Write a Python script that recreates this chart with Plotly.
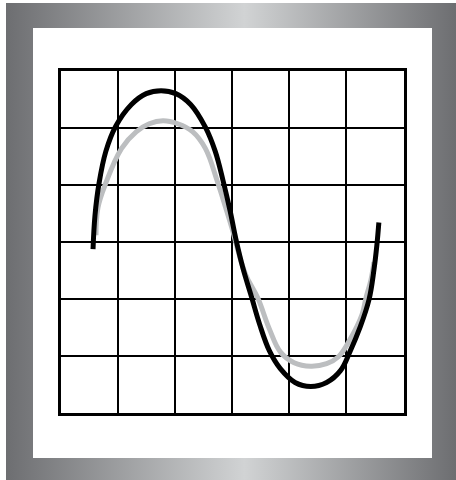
import plotly.graph_objects as go

# black wave (grid units: x 0..6, y -3..3)
black_x = [0.569, 0.603, 0.672, 0.793, 0.966, 1.241, 1.500, 1.759, 2.017, 2.276, 2.534, 2.707,
           2.845, 2.966, 3.069, 3.190, 3.345, 3.483, 3.655, 3.845, 4.103, 4.379, 4.655, 4.897,
           5.069, 5.241, 5.397, 5.483, 5.534, 5.569]
black_y = [-0.130, 0.458, 1.012, 1.583, 2.024, 2.405, 2.595, 2.647, 2.595, 2.405, 2.007, 1.583,
           1.064, 0.545, 0.043, -0.459, -0.978, -1.445, -1.912, -2.223, -2.465, -2.535, -2.465, -2.258,
           -1.912, -1.497, -1.012, -0.493, -0.061, 0.337]

# grey wave
grey_x = [0.621, 0.655, 0.793, 1.069, 1.328, 1.552, 1.793, 2.052, 2.310, 2.534, 2.741, 2.879,
          3.000, 3.103, 3.241, 3.448, 3.655, 3.845, 4.086, 4.379, 4.655, 4.862, 5.069, 5.276,
          5.345, 5.431, 5.483]
grey_y = [0.112, 0.596, 1.029, 1.635, 1.929, 2.067, 2.120, 2.067, 1.929, 1.635, 1.064, 0.631,
          0.234, -0.147, -0.580, -0.978, -1.531, -1.929, -2.119, -2.180, -2.136, -2.015, -1.704, -1.271,
          -0.978, -0.666, -0.355]

W, H = 456, 480

fig = go.Figure()

# gradient frame + white panel (pixel coords on the background axes)
fig.add_trace(go.Scatter(x=[6, W, W, 6, 6], y=[3, 3, H, H, 3], mode="lines",
                         fill="toself", line=dict(width=0),
                         fillgradient=dict(type="horizontal",
                                           colorscale=[[0, "#6d6e71"], [0.53, "#d1d3d4"], [1, "#6d6e71"]]),
                         hoverinfo="skip", xaxis="x", yaxis="y"))
fig.add_trace(go.Scatter(x=[33, 432, 432, 33, 33], y=[28, 28, 458, 458, 28], mode="lines",
                         fill="toself", fillcolor="white", line=dict(width=0),
                         hoverinfo="skip", xaxis="x", yaxis="y"))

fig.add_trace(go.Scatter(x=grey_x, y=grey_y, mode="lines",
                         line=dict(color="#bcbec0", width=5, shape="spline", smoothing=1.1),
                         hoverinfo="skip", xaxis="x2", yaxis="y2"))
fig.add_trace(go.Scatter(x=black_x, y=black_y, mode="lines",
                         line=dict(color="black", width=5, shape="spline", smoothing=1.1),
                         hoverinfo="skip", xaxis="x2", yaxis="y2"))

fig.update_layout(
    width=W, height=H, margin=dict(l=0, r=0, t=0, b=0),
    paper_bgcolor="white", plot_bgcolor="rgba(0,0,0,0)", showlegend=False,
    xaxis=dict(domain=[0, 1], range=[0, W], visible=False, fixedrange=True),
    yaxis=dict(domain=[0, 1], range=[H, 0], visible=False, fixedrange=True),
    xaxis2=dict(domain=[60.5 / W, 403.5 / W], range=[0, 6], dtick=1, showgrid=True, gridcolor="black",
                gridwidth=2, zeroline=False, showline=True, mirror=True, linecolor="black",
                linewidth=3, showticklabels=False, ticks="", anchor="y2", fixedrange=True),
    yaxis2=dict(domain=[1 - 413 / H, 1 - 70.5 / H], range=[-3, 3], dtick=1, showgrid=True, gridcolor="black",
                gridwidth=2, zeroline=False, showline=True, mirror=True, linecolor="black",
                linewidth=3, showticklabels=False, ticks="", anchor="x2", fixedrange=True),
)

fig.write_html("out.html", config={"displayModeBar": False},
               post_script="document.body.style.margin='0px';")
